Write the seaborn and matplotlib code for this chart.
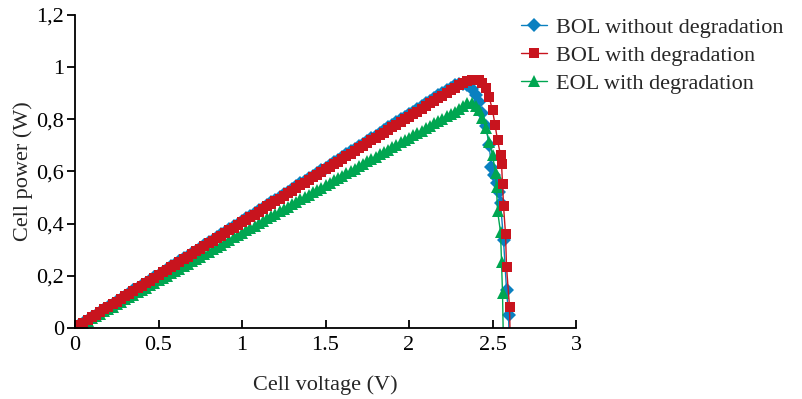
import matplotlib
matplotlib.use("Agg")
import matplotlib.pyplot as plt
import seaborn as sns

# shared voltage grid of the linear part (V)
v_lin = [0.000, 0.025, 0.050, 0.075, 0.100, 0.125, 0.150, 0.175, 0.200, 0.225, 0.250, 0.275, 0.300, 0.325,
         0.350, 0.375, 0.400, 0.425, 0.450, 0.475, 0.500, 0.525, 0.550, 0.575, 0.600, 0.625, 0.650, 0.675,
         0.700, 0.725, 0.750, 0.775, 0.800, 0.825, 0.850, 0.875, 0.900, 0.925, 0.950, 0.975, 1.000, 1.025,
         1.050, 1.075, 1.100, 1.125, 1.150, 1.175, 1.200, 1.225, 1.250, 1.275, 1.300, 1.325, 1.350, 1.375,
         1.400, 1.425, 1.450, 1.475, 1.500, 1.525, 1.550, 1.575, 1.600, 1.625, 1.650, 1.675, 1.700, 1.725,
         1.750, 1.775, 1.800, 1.825, 1.850, 1.875, 1.900, 1.925, 1.950, 1.975, 2.000, 2.025, 2.050, 2.075,
         2.100, 2.125, 2.150, 2.175, 2.200, 2.225, 2.250, 2.275]

# BOL without degradation
p_bol_lin = [0.000, 0.010, 0.021, 0.031, 0.041, 0.051, 0.062, 0.072, 0.082, 0.092, 0.103, 0.113, 0.123, 0.133,
             0.144, 0.154, 0.164, 0.174, 0.185, 0.195, 0.205, 0.215, 0.226, 0.236, 0.246, 0.256, 0.267, 0.277,
             0.287, 0.297, 0.308, 0.318, 0.328, 0.338, 0.349, 0.359, 0.369, 0.379, 0.390, 0.400, 0.410, 0.420,
             0.431, 0.441, 0.451, 0.461, 0.472, 0.482, 0.492, 0.502, 0.513, 0.523, 0.533, 0.543, 0.554, 0.564,
             0.574, 0.584, 0.595, 0.605, 0.615, 0.625, 0.636, 0.646, 0.656, 0.666, 0.677, 0.687, 0.697, 0.707,
             0.718, 0.728, 0.738, 0.748, 0.759, 0.769, 0.779, 0.789, 0.800, 0.810, 0.820, 0.830, 0.841, 0.851,
             0.861, 0.871, 0.882, 0.892, 0.902, 0.912, 0.922, 0.930]
v_bol_knee = [2.300, 2.325, 2.350, 2.375, 2.400, 2.420, 2.440, 2.460, 2.480, 2.494, 2.510, 2.524, 2.536,
              2.548, 2.566, 2.584, 2.596, 2.600]
p_bol_knee = [0.935, 0.937, 0.933, 0.918, 0.895, 0.865, 0.825, 0.775, 0.700, 0.617, 0.585, 0.556, 0.520,
              0.480, 0.337, 0.146, 0.050, -0.050]

# BOL with degradation
p_deg_lin = [0.000, 0.010, 0.020, 0.030, 0.041, 0.051, 0.061, 0.071, 0.081, 0.091, 0.101, 0.111, 0.122, 0.132,
             0.142, 0.152, 0.162, 0.172, 0.182, 0.192, 0.203, 0.213, 0.223, 0.233, 0.243, 0.253, 0.263, 0.273,
             0.284, 0.294, 0.304, 0.314, 0.324, 0.334, 0.344, 0.354, 0.365, 0.375, 0.385, 0.395, 0.405, 0.415,
             0.425, 0.435, 0.446, 0.456, 0.466, 0.476, 0.486, 0.496, 0.506, 0.516, 0.527, 0.537, 0.547, 0.557,
             0.567, 0.577, 0.587, 0.597, 0.608, 0.618, 0.628, 0.638, 0.648, 0.658, 0.668, 0.678, 0.689, 0.699,
             0.709, 0.719, 0.729, 0.739, 0.749, 0.759, 0.770, 0.780, 0.790, 0.800, 0.810, 0.820, 0.830, 0.840,
             0.851, 0.861, 0.871, 0.881, 0.891, 0.901, 0.911, 0.920]
v_deg_knee = [2.300, 2.325, 2.350, 2.375, 2.400, 2.420, 2.440, 2.460, 2.480, 2.500, 2.515, 2.530, 2.548,
              2.554, 2.560, 2.566, 2.578, 2.584, 2.602, 2.606]
p_deg_knee = [0.930, 0.940, 0.947, 0.951, 0.952, 0.950, 0.940, 0.920, 0.885, 0.835, 0.780, 0.720, 0.663,
              0.630, 0.552, 0.468, 0.360, 0.234, 0.080, -0.050]

# EOL with degradation
p_eol_lin = [0.000, 0.009, 0.018, 0.027, 0.037, 0.046, 0.055, 0.064, 0.073, 0.082, 0.091, 0.100, 0.110, 0.119,
             0.128, 0.137, 0.146, 0.155, 0.164, 0.173, 0.183, 0.192, 0.201, 0.210, 0.219, 0.228, 0.237, 0.246,
             0.256, 0.265, 0.274, 0.283, 0.292, 0.301, 0.310, 0.319, 0.329, 0.338, 0.347, 0.356, 0.365, 0.374,
             0.383, 0.392, 0.402, 0.411, 0.420, 0.429, 0.438, 0.447, 0.456, 0.465, 0.475, 0.484, 0.493, 0.502,
             0.511, 0.520, 0.529, 0.538, 0.548, 0.557, 0.566, 0.575, 0.584, 0.593, 0.602, 0.611, 0.621, 0.630,
             0.639, 0.648, 0.657, 0.666, 0.675, 0.684, 0.694, 0.703, 0.712, 0.721, 0.730, 0.739, 0.748, 0.757,
             0.767, 0.776, 0.785, 0.794, 0.803, 0.812, 0.821, 0.830]
v_eol_knee = [2.300, 2.325, 2.350, 2.375, 2.400, 2.420, 2.440, 2.460, 2.480, 2.500, 2.518, 2.524, 2.530,
              2.548, 2.554, 2.560, 2.565]
p_eol_knee = [0.840, 0.852, 0.861, 0.862, 0.852, 0.835, 0.805, 0.765, 0.715, 0.665, 0.594, 0.540, 0.450,
              0.368, 0.253, 0.134, -0.050]

x_ticks = [0, 0.5, 1, 1.5, 2, 2.5, 3]
x_labels = ["0", "0.5", "1", "1.5", "2", "2.5", "3"]
y_ticks = [0, 0.2, 0.4, 0.6, 0.8, 1.0, 1.2]
y_labels = ["0", "0,2", "0,4", "0,6", "0,8", "1", "1,2"]

sns.set_style("ticks")
plt.rcParams["font.family"] = ["Liberation Serif", "DejaVu Serif"]

fig = plt.figure(figsize=(8.03, 3.99), dpi=100)
ax = fig.add_axes([75 / 803, 1 - 328 / 399, 501 / 803, 313 / 399])

blue, red, green = "#0A80C0", "#C8141E", "#00A651"

# draw order: blue, green, red (red sits on top)
sns.lineplot(x=v_lin + v_bol_knee, y=p_bol_lin + p_bol_knee, ax=ax, sort=False, color=blue, lw=1,
             marker="D", ms=7.5, mec=blue, mew=0, label="BOL without degradation")
sns.lineplot(x=v_lin + v_eol_knee, y=p_eol_lin + p_eol_knee, ax=ax, sort=False, color=green, lw=1,
             marker="^", ms=8, mec=green, mew=0, label="EOL with degradation")
sns.lineplot(x=v_lin + v_deg_knee, y=p_deg_lin + p_deg_knee, ax=ax, sort=False, color=red, lw=1,
             marker="s", ms=7.5, mec=red, mew=0, label="BOL with degradation")

ax.set_xlim(0, 3)
ax.set_ylim(0, 1.2)
ax.set_xticks(x_ticks)
ax.set_xticklabels(x_labels)
ax.set_yticks(y_ticks)
ax.set_yticklabels(y_labels)
ax.tick_params(axis="x", direction="in", length=6, width=1.3, labelsize=16, pad=6, colors="black")
ax.tick_params(axis="y", direction="out", length=6, width=1.3, labelsize=16, pad=2, colors="black")
for s in ["top", "right"]:
    ax.spines[s].set_visible(False)
for s in ["left", "bottom"]:
    ax.spines[s].set_linewidth(1.3)
    ax.spines[s].set_color("black")
ax.set_xlabel("Cell voltage (V)", fontsize=16, labelpad=14)
ax.set_ylabel("Cell power (W)", fontsize=16, labelpad=2)

handles, labels = ax.get_legend_handles_labels()
order = [0, 2, 1]
ax.get_legend().remove()
fig.legend([handles[i] for i in order], [labels[i] for i in order], loc="upper left",
           bbox_to_anchor=(0.629, 0.995), frameon=False, fontsize=16, handlelength=1.2,
           handletextpad=0.4, labelspacing=0.33, borderaxespad=0.3)

fig.savefig("out.png", dpi=100)
